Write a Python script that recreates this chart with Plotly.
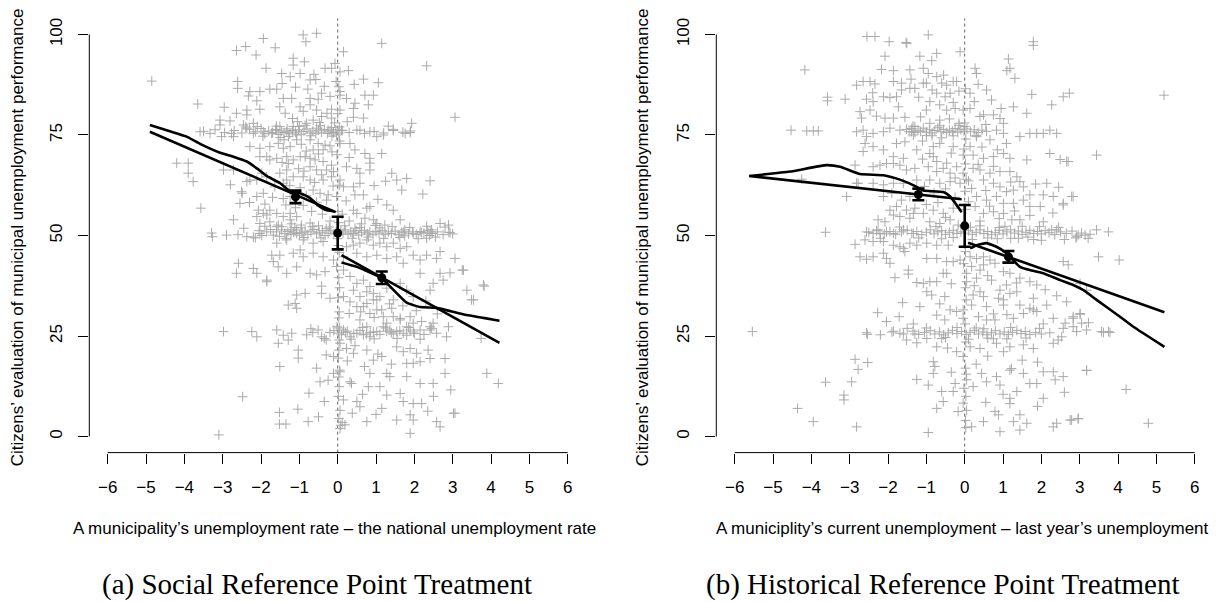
import plotly.graph_objects as go

W, H = 1221, 602

# ---------------- Panel (a): social reference point ----------------
a_upper_left = [
    (-4.85, 88.4), (-1.94, 99.0), (-2.64, 96.0), (-2.4, 97.0), (-2.13, 94.9), (-1.63, 96.7), (-1.16, 94.1),
    (-1.87, 91.6), (-1.46, 90.3), (-1.24, 89.5), (-2.61, 88.3), (-2.61, 86.6), (-2.29, 85.8), (-2.03, 85.8),
    (-1.77, 86.4), (-1.59, 86.4), (-3.65, 82.7), (-2.96, 81.9), (-2.33, 84.7), (-2.11, 83.5), (-1.42, 84.1),
    (-1.2, 84.1), (-2.37, 81.2), (-2.03, 81.4), (-1.51, 82.0), (-1.37, 80.4), (-2.64, 80.4), (-2.37, 80.0),
    (-3.07, 78.7), (-2.81, 78.5), (-3.59, 75.8), (-3.33, 75.4), (-3.07, 77.5), (-3.03, 74.6), (-2.77, 75.4),
    (-2.72, 74.6), (-2.46, 77.5), (-2.37, 76.7), (-2.2, 77.9), (-2.2, 75.4), (-1.94, 75.8), (-1.72, 75.4),
    (-1.59, 76.2), (-1.51, 77.1), (-1.33, 75.8), (-1.16, 77.1), (-1.07, 75.0), (-4.2, 68.0), (-3.9, 68.0),
    (-3.9, 65.5), (-3.77, 63.4), (-2.98, 66.3), (-2.72, 66.3), (-2.29, 72.1), (-2.03, 71.7), (-1.77, 72.1),
    (-1.55, 72.9), (-1.42, 71.7), (-1.24, 72.1), (-1.07, 73.8), (-2.03, 69.6), (-1.85, 69.6), (-1.59, 69.2),
    (-1.33, 69.6), (-1.16, 68.8), (-2.37, 63.4), (-2.11, 63.8), (-1.85, 64.6), (-1.51, 65.5), (-1.33, 63.8),
    (-1.16, 64.6), (-2.49, 60.5), (-2.11, 59.7), (-1.94, 60.5), (-3.57, 56.8), (-2.72, 53.9), (-2.11, 54.7),
    (-1.94, 55.5), (-1.77, 56.3), (-1.59, 55.5), (-1.42, 54.7), (-1.24, 55.5), (-1.07, 54.7), (-2.03, 53.0),
    (-1.77, 53.4), (-1.59, 52.2), (-3.27, 49.7), (-2.9, 50.1), (-2.37, 49.7), (-2.2, 49.6), (-2.03, 50.5),
    (-1.85, 50.9), (-1.68, 50.1), (-1.46, 51.4), (-1.24, 51.4), (-1.07, 50.5), (-1.59, 48.1), (-1.33, 48.9),
    (-2.59, 43.1), (-2.64, 40.6), (-2.2, 41.8), (-2.11, 40.6), (-1.85, 38.9), (-1.68, 43.5), (-1.55, 42.2),
    (-1.33, 40.6), (-1.07, 42.2), (-1.07, 35.2), (-2.07, 56.3), (-1.85, 55.1), (-1.46, 52.2), (-1.24, 53.9),
    (-1.42, 59.2), (-1.24, 59.7), (-1.64, 62.1), (-1.42, 63.0), (-1.33, 66.3), (-2.29, 63.8), (-1.98, 65.5),
    (-2.51, 60.9), (-1.77, 68.8), (-1.29, 67.9), (-1.16, 92.4), (-1.72, 45.1), (-1.51, 45.1), (-1.16, 45.6),
]
a_lower_left = [
    (-1.85, 38.5), (-1.29, 32.7), (-1.11, 33.1), (-1.07, 31.9), (-2.98, 26.1), (-2.24, 26.1), (-2.11, 24.8),
    (-1.59, 26.5), (-1.42, 25.2), (-1.29, 24.0), (-1.2, 25.7), (-1.55, 23.2), (-1.03, 21.5), (-1.03, 19.5),
    (-1.51, 17.4), (-2.48, 9.9), (-1.52, 6.0), (-1.52, 3.1), (-1.35, 3.1), (-1.04, 6.8), (-3.1, 0.4),
]
a_upper_right = [
    (-0.83, 98.2), (-0.9, 99.9), (-0.55, 100.3), (0.15, 95.7), (1.15, 97.8), (2.32, 92.2), (3.06, 79.4),
    (-0.87, 93.2), (-0.33, 91.6), (-0.16, 91.6), (-0.07, 92.8), (0.06, 90.7), (0.28, 91.0), (-0.98, 90.3),
    (-0.72, 88.7), (-0.57, 88.8), (-0.04, 88.3), (0.06, 85.8), (0.43, 87.6), (0.67, 88.9), (1.06, 88.0),
    (-0.78, 86.4), (-0.42, 85.4), (-0.51, 83.9), (-0.72, 84.1), (0.06, 84.9), (0.23, 84.1), (0.71, 84.9),
    (0.93, 84.9), (0.45, 82.9), (0.8, 82.5), (-0.98, 82.0), (-0.72, 82.5), (-0.55, 81.2), (-0.16, 81.4),
    (0.06, 81.2), (0.41, 81.6), (0.67, 79.2), (0.41, 79.4), (-0.16, 79.2), (-0.42, 79.6), (-0.64, 78.7),
    (-0.81, 77.9), (-0.55, 76.7), (-0.25, 76.2), (-0.16, 76.9), (-0.11, 75.6), (0.1, 76.2), (-0.03, 75.0),
    (0.58, 76.2), (0.84, 75.8), (1.02, 74.6), (1.19, 75.0), (1.32, 77.2), (1.45, 76.4), (1.76, 75.4),
    (1.89, 75.6), (1.93, 77.9), (-0.72, 73.8), (-0.51, 72.9), (-0.33, 72.5), (-0.2, 72.3), (-0.64, 71.3),
    (-0.38, 71.3), (0.06, 72.9), (0.32, 72.9), (0.45, 71.3), (0.71, 70.4), (0.84, 69.2), (1.15, 70.4),
    (-0.98, 69.6), (-0.85, 69.6), (-0.72, 69.2), (-0.59, 68.8), (-0.38, 68.4), (-0.16, 67.5), (-0.29, 66.3),
    (-0.11, 65.9), (-0.72, 67.1), (-0.55, 66.3), (0.23, 67.1), (0.5, 66.7), (0.58, 65.5), (0.84, 66.3),
    (0.84, 68.0), (1.41, 65.5), (1.54, 63.8), (1.8, 64.2), (1.67, 61.3), (2.41, 63.6), (2.22, 60.3),
    (-0.9, 64.6), (-0.72, 63.8), (-0.38, 63.8), (-0.16, 64.6), (0.06, 63.8), (0.15, 62.1), (0.41, 62.1),
    (0.58, 63.0), (0.67, 60.1), (0.45, 60.1), (-0.64, 61.3), (-0.46, 60.5), (-0.25, 60.1), (-0.03, 59.7),
    (-0.29, 58.8), (0.41, 56.3), (0.5, 55.5), (0.76, 56.8), (0.84, 57.2), (0.71, 54.3), (0.93, 53.9),
    (1.28, 57.6), (1.45, 56.3), (1.63, 53.9), (1.23, 52.6), (1.02, 53.0), (2.67, 53.0), (2.89, 52.6),
    (2.93, 50.7), (2.41, 50.9), (2.19, 50.7), (1.97, 50.5), (1.71, 50.9), (2.45, 51.4), (2.32, 49.3),
]
a_core = [
    (-1.45, 87.8), (-1.1, 86.9), (-0.62, 90.1), (-0.35, 87.1), (-0.2, 84.6), (-0.9, 80.9), (-1.18, 79.1),
    (-1.05, 78.3), (-0.48, 78.1), (-0.28, 80.4), (-0.08, 78.0), (-1.4, 73.8), (-0.95, 72.7), (-0.82, 71.0),
    (-0.5, 70.3), (-0.15, 70.8), (-1.45, 68.2), (-1.02, 66.6), (-0.88, 66.0), (-0.42, 65.1), (-0.6, 63.2),
    (-1.25, 62.4), (-0.98, 61.9), (-0.82, 59.9), (-0.55, 58.3), (-0.12, 62.3), (-1.35, 57.6), (-1.1, 56.9),
    (-0.9, 57.5), (-0.68, 56.0), (-0.4, 55.3), (-0.2, 53.6), (-0.72, 53.1), (-0.95, 52.6), (-0.5, 52.4),
    (-1.2, 52.9), (0.22, 58.6), (0.3, 53.6), (0.62, 52.9), (0.12, 55.3), (1.05, 59.0), (0.95, 62.4),
    (1.25, 63.5), (0.3, 69.4), (0.25, 78.3), (-2.55, 58.0), (-2.8, 62.6), (-1.9, 57.8), (-2.3, 58.2),
    (-1.7, 59.5),
]
a_middle_right = [
    (-0.9, 44.7), (-0.64, 45.6), (-0.38, 44.7), (-0.11, 43.9), (-0.72, 40.6), (-0.55, 40.2), (-0.33, 41.0),
    (-0.42, 37.4), (-0.85, 35.6), (-0.42, 35.6), (-0.2, 34.4), (3.82, 37.4), (3.25, 41.4), (3.06, 44.3),
    (-0.9, 48.9), (-0.64, 48.1), (-0.38, 48.5), (-0.98, 46.4), (0.15, 44.7), (0.23, 47.2), (0.41, 47.6),
    (0.58, 48.1), (0.76, 48.9), (0.93, 47.6), (1.1, 48.1), (1.28, 47.2), (1.45, 48.1), (1.63, 46.8),
    (1.8, 47.2), (0.5, 45.6), (0.76, 44.7), (1.02, 45.1), (1.28, 44.3), (1.54, 44.7), (1.71, 43.1),
    (1.97, 45.1), (2.15, 43.9), (2.32, 45.1), (2.58, 44.3), (2.67, 46.0), (3.28, 41.4), (2.93, 40.7),
    (2.75, 38.9), (2.67, 40.6), (2.49, 38.1), (2.41, 36.4), (2.15, 40.6), (3.37, 36.4), (3.54, 34.0),
    (3.8, 37.7), (3.49, 34.0), (0.15, 41.4), (0.32, 39.8), (0.5, 38.1), (0.67, 38.9), (0.84, 37.3),
    (0.93, 35.6), (1.1, 34.8), (1.28, 36.9), (1.45, 34.0), (1.63, 38.1), (1.8, 36.4), (1.97, 34.8),
    (0.15, 34.8), (0.32, 33.5), (0.5, 32.3), (0.76, 33.1), (1.02, 34.0), (1.15, 31.5), (1.41, 31.9),
    (1.63, 29.4), (1.89, 29.8), (2.19, 28.6), (2.41, 27.3), (0.41, 36.4), (0.58, 34.8), (0.76, 36.0),
    (0.93, 34.0), (0.67, 32.3), (0.84, 30.6), (1.02, 31.5), (1.19, 29.8), (1.28, 28.2), (0.58, 29.0),
    (0.76, 27.3), (1.45, 29.8), (1.63, 29.0), (1.8, 27.3), (1.97, 28.2), (2.15, 26.5), (0.3, 30.6),
    (0.6, 31.0), (0.95, 29.6), (1.35, 33.0), (1.7, 32.5), (2.05, 31.3), (2.3, 33.7), (2.6, 30.5),
]
a_lower_right = [
    (-0.81, 25.3), (-0.51, 26.5), (-0.42, 24.8), (-0.3, 24.0), (0.02, 25.7), (0.15, 26.5), (0.32, 24.8),
    (0.5, 25.7), (0.67, 25.3), (0.84, 24.8), (1.02, 26.1), (1.19, 27.3), (1.36, 26.5), (1.54, 26.1),
    (1.71, 25.7), (1.89, 26.5), (2.41, 26.5), (2.58, 25.7), (2.84, 24.8), (2.49, 28.2), (2.89, 27.3),
    (-0.2, 25.9), (-0.1, 26.4), (0.1, 25.3), (0.25, 26.2), (0.42, 25.6), (0.58, 26.4), (0.75, 25.5),
    (0.93, 26.0), (1.1, 25.4), (1.28, 26.2), (1.45, 25.5), (1.62, 26.3), (1.8, 25.2), (1.98, 26.0),
    (2.25, 25.4), (-0.65, 25.9), (3.74, 24.4), (-0.7, 26.8), (-0.35, 24.4), (0.05, 27.0), (0.35, 24.2),
    (0.65, 27.1), (0.95, 24.3), (1.25, 27.0), (1.55, 24.4), (1.85, 27.1), (2.15, 24.2), (2.45, 26.9),
    (0.2, 25.9), (0.85, 25.9), (1.4, 25.8), (2.0, 25.6),
    (0.06, 23.2), (0.23, 21.9), (0.41, 20.7), (0.76, 21.5), (0.93, 19.0), (1.15, 19.9), (1.54, 22.3),
    (1.71, 21.1), (1.89, 21.9), (2.06, 20.7), (2.36, 21.5), (1.97, 18.2), (2.15, 18.6), (2.41, 19.4),
    (2.8, 19.4), (1.8, 18.2), (-0.3, 20.3), (-0.11, 19.9), (-0.11, 15.7), (0.06, 16.1), (0.32, 13.6),
    (0.36, 13.2), (0.84, 15.7), (1.28, 15.7), (1.36, 14.9), (1.8, 14.9), (2.15, 13.2), (2.49, 13.2),
    (2.8, 15.7), (3.89, 15.7), (4.19, 13.2), (-0.46, 13.6), (0.8, 12.4), (1.1, 12.4), (1.28, 10.3),
    (1.63, 10.7), (1.71, 8.7), (1.97, 8.2), (2.19, 8.2), (0.15, 9.1), (0.5, 8.7), (1.15, 7.0), (0.58, 7.4),
    (1.54, 4.1), (1.89, 5.4), (1.97, 4.1), (2.58, 3.7), (2.67, 2.4), (3.06, 5.8), (0.76, 3.7), (0.19, 2.9),
    (0.06, 2.0), (-0.77, 3.7), (-0.5, 4.9), (1.89, 0.8), (3.02, 5.8), (0.45, 22.6), (1.05, 20.5),
    (1.4, 18.0), (0.7, 17.4), (0.25, 18.8), (-0.55, 17.0), (-0.25, 14.0), (0.65, 10.5), (1.0, 5.5),
    (2.35, 6.3), (2.5, 10.0), (2.95, 11.6), (-0.35, 8.7), (-0.75, 10.8), (0.38, 5.8),
]
# answers heaped at 50 and 75, and municipalities sitting right at the reference point
a_heap_50 = [
    (-3.29, 50.6), (-2.6, 50.2), (-2.05, 51.2), (-1.98, 50.0), (-1.75, 51.5), (-1.6, 50.9), (-1.52, 49.8),
    (-1.38, 50.5), (-1.3, 51.0), (-1.22, 50.2), (-1.15, 50.8), (-1.08, 51.4), (-1.0, 50.1), (-0.93, 50.7),
    (-0.85, 51.1), (-0.78, 50.3), (-0.7, 50.9), (-0.62, 51.5), (-0.55, 50.4), (-0.48, 50.8), (-0.4, 51.2),
    (-0.33, 50.0), (-0.25, 50.6), (-0.18, 51.3), (-0.1, 50.4), (-0.04, 50.9), (0.03, 50.2), (0.08, 51.1),
    (0.14, 50.6), (0.2, 51.4), (0.27, 50.3), (0.34, 50.9), (0.41, 50.5), (0.48, 51.2), (0.55, 50.1),
    (0.62, 50.8), (0.7, 51.3), (0.77, 50.4), (0.84, 50.9), (0.92, 50.2), (1.0, 51.0), (1.08, 50.6),
    (1.16, 51.2), (1.24, 50.3), (1.32, 50.9), (1.4, 50.5), (1.5, 51.1), (1.58, 50.2), (1.67, 50.8),
    (1.75, 51.4), (1.85, 50.4), (1.95, 50.9), (2.05, 50.3), (2.15, 51.0), (2.25, 50.6), (2.35, 51.3),
    (2.47, 50.5), (2.6, 50.9), (2.75, 50.2), (2.9, 50.8), (3.0, 50.4), (-2.45, 51.8), (-2.15, 49.4),
    (-1.9, 52.3), (-1.55, 52.6), (-1.35, 49.3), (-1.12, 52.0), (-0.88, 49.5), (-0.66, 52.2), (-0.44, 49.4),
    (-0.22, 52.1), (0.0, 49.2), (0.18, 52.4), (0.38, 49.3), (0.58, 52.0), (0.8, 49.6), (0.98, 52.5),
    (1.2, 49.3), (1.42, 52.2), (1.62, 49.5), (1.88, 52.0), (2.1, 49.2), (2.32, 52.3), (2.55, 49.6),
    (2.8, 52.1), (-0.95, 51.9), (-0.3, 51.7), (0.45, 51.8), (1.1, 51.9), (1.75, 49.9), (2.4, 50.0),
]
a_heap_75 = [
    (-3.5, 75.9), (-3.2, 76.3), (-2.95, 75.6), (-2.7, 76.1), (-2.5, 75.5), (-2.3, 76.4), (-2.15, 75.8),
    (-2.0, 76.6), (-1.9, 75.3), (-1.8, 76.0), (-1.7, 75.6), (-1.62, 76.4), (-1.55, 75.2), (-1.47, 76.0),
    (-1.4, 75.6), (-1.32, 76.5), (-1.25, 75.3), (-1.18, 76.1), (-1.1, 75.7), (-1.02, 76.3), (-0.95, 75.2),
    (-0.88, 75.9), (-0.8, 76.5), (-0.72, 75.5), (-0.65, 76.0), (-0.57, 75.3), (-0.5, 76.2), (-0.42, 75.7),
    (-0.35, 76.4), (-0.27, 75.4), (-0.2, 76.0), (-0.12, 75.6), (-0.05, 76.3), (0.03, 75.5), (0.12, 76.1),
    (0.3, 75.6), (0.5, 76.2), (0.7, 75.4), (0.95, 75.9), (1.2, 75.5), (1.45, 76.1), (1.7, 75.7), (1.9, 76.0),
    (-2.4, 77.0), (-1.95, 74.7), (-1.6, 77.2), (-1.28, 74.6), (-1.0, 77.1), (-0.7, 74.8), (-0.45, 77.3),
    (-0.15, 74.7), (0.05, 77.0), (-0.85, 77.4), (-1.5, 74.4), (-2.1, 77.1),
]
a_at_zero = [
    (0.03, 87.0), (0.0, 80.3), (0.05, 73.5), (-0.02, 70.1), (0.04, 62.5), (0.01, 56.0), (0.03, 53.2),
    (0.02, 47.5), (0.04, 45.8), (-0.03, 42.3), (0.03, 39.5), (0.05, 37.0), (0.02, 34.5), (0.04, 31.0),
    (0.03, 29.5), (-0.02, 27.3), (0.04, 24.0), (0.03, 21.5), (0.02, 19.5), (0.05, 16.5), (0.03, 14.8),
    (0.04, 12.4), (0.02, 10.0), (0.06, 6.5), (0.03, 4.5), (0.08, 2.8), (0.12, 3.5),
]

# fitted lines (linear and local regression) on each side of the cut-off
a_lin_left_x, a_lin_left_y = [-4.9, -0.05], [75.8, 55.8]
a_lo_left_x = [-4.9, -4.4, -3.94, -3.59, -3.07, -2.72, -2.37, -2.11, -1.85, -1.5, -1.24, -0.98, -0.72, -0.5, -0.33, -0.1]
a_lo_left_y = [77.5, 76.0, 74.6, 72.8, 70.6, 69.6, 68.4, 66.7, 64.8, 63.0, 61.0, 60.5, 59.3, 57.4, 56.4, 56.0]
a_lin_right_x, a_lin_right_y = [0.1, 4.22], [45.1, 23.3]
a_lo_right_x = [0.1, 0.5, 1.15, 1.37, 1.8, 2.15, 2.58, 3.19, 3.37, 4.22]
a_lo_right_y = [43.3, 42.2, 39.4, 37.3, 33.3, 32.2, 32.0, 30.6, 30.2, 28.8]
a_est_x = [-1.1, 0.0, 1.15]
a_est_y = [59.6, 50.6, 39.5]
a_est_ci = [1.55, 4.05, 1.55]

# ---------------- Panel (b): historical reference point ----------------
b_upper_left = [
    (-4.17, 91.2), (-4.53, 76.2), (-4.12, 76.0), (-3.95, 76.0), (-3.82, 76.0), (-3.58, 84.4), (-3.58, 83.5),
    (-3.12, 83.9), (-2.55, 99.5), (-2.34, 99.5), (-1.97, 98.2), (-1.53, 98.0), (-2.08, 94.6), (-2.17, 91.3),
    (-1.86, 91.0), (-1.43, 91.2), (-2.82, 87.4), (-2.65, 88.3), (-2.47, 88.3), (-2.34, 87.7), (-1.86, 88.3),
    (-1.65, 87.9), (-2.4, 85.5), (-2.12, 84.5), (-1.95, 84.3), (-1.65, 86.2), (-1.43, 86.6), (-1.3, 86.6),
    (-2.56, 83.9), (-2.39, 83.3), (-2.47, 81.2), (-1.78, 84.5), (-1.73, 82.0), (-2.73, 80.8), (-2.69, 79.2),
    (-2.3, 79.7), (-2.08, 79.2), (-1.86, 79.2), (-1.56, 79.4), (-2.82, 75.8), (-2.65, 76.2), (-2.56, 74.6),
    (-2.39, 75.4), (-2.12, 75.8), (-1.95, 76.7), (-1.69, 76.2), (-1.39, 75.8), (-1.3, 77.1), (-1.34, 75.0),
    (-2.6, 72.9), (-2.65, 70.9), (-2.39, 72.1), (-2.12, 71.3), (-1.86, 69.6), (-1.6, 69.2), (-1.78, 72.9),
    (-1.56, 73.3), (-2.39, 67.1), (-2.21, 67.5), (-2.04, 67.9), (-1.86, 67.9), (-1.69, 67.5), (-1.52, 66.3),
    (-1.3, 66.7), (-2.86, 67.5), (-2.82, 63.0), (-4.25, 64.0), (-3.08, 59.7), (-2.78, 63.0), (-2.39, 63.0),
    (-2.12, 62.6), (-1.86, 63.0), (-1.6, 63.0), (-1.25, 63.8), (-2.12, 59.7), (-1.9, 60.5), (-1.65, 58.8),
    (-1.43, 59.7), (-1.95, 56.3), (-1.78, 57.2), (-1.52, 56.3), (-1.3, 56.8), (-1.86, 55.1), (-1.69, 54.7),
    (-1.43, 54.3), (-1.34, 55.5), (-2.26, 53.9), (-2.08, 53.4), (-2.26, 51.4), (-2.04, 50.9), (-1.86, 50.5),
    (-2.56, 50.9), (-2.39, 50.5), (-2.21, 50.5), (-1.6, 51.4), (-1.34, 50.5), (-3.63, 50.8), (-2.86, 47.8),
    (-2.6, 48.9), (-2.39, 48.5), (-2.12, 48.5), (-1.86, 47.6), (-1.6, 46.8), (-2.73, 44.7), (-2.56, 44.1),
    (-2.39, 44.7), (-2.12, 45.6), (-2.04, 44.3), (-1.95, 43.1), (-1.82, 39.5), (-1.47, 41.4), (-1.47, 40.4),
    (-1.25, 38.3), (-1.69, 47.2), (-1.43, 48.1), (-1.25, 47.6), (-1.56, 46.0), (-1.51, 97.8), (-0.95, 99.9),
]
b_lower_left = [
    (-5.54, 26.1), (-4.36, 7.0), (-3.95, 3.7), (-3.63, 13.5), (-3.15, 10.3), (-3.15, 9.1), (-2.95, 13.6),
    (-2.82, 2.4), (-2.86, 19.2), (-2.78, 16.7), (-2.53, 18.4), (-2.54, 25.4), (-2.27, 30.8), (-2.04, 28.6),
    (-1.86, 26.2), (-1.69, 25.7), (-1.71, 29.8), (-1.62, 33.3), (-1.52, 24.0), (-1.34, 28.0), (-1.3, 25.5),
    (-1.25, 23.3), (-1.25, 14.2),
]
b_upper_right = [
    (-0.12, 95.7), (-1.17, 94.6), (-0.73, 95.3), (-0.86, 93.5), (1.79, 98.2), (1.79, 97.3), (1.14, 93.9),
    (1.18, 91.6), (1.1, 91.0), (0.27, 91.6), (0.31, 90.3), (1.31, 89.1), (-1.08, 91.6), (-0.95, 90.3),
    (-0.73, 89.5), (-1.08, 87.9), (-1.0, 87.9), (-0.6, 87.9), (-0.47, 87.4), (-0.3, 88.3), (-0.21, 88.3),
    (-0.38, 85.4), (-0.51, 84.5), (-0.73, 85.4), (-0.91, 83.3), (0.14, 85.4), (0.57, 86.2), (0.14, 81.6),
    (0.4, 79.6), (0.75, 80.0), (0.92, 79.1), (1.01, 77.9), (1.75, 85.1), (2.27, 82.5), (2.57, 84.5),
    (2.73, 85.4), (1.27, 82.0), (1.62, 80.4), (0.49, 80.0), (-0.65, 82.5), (-0.47, 81.2), (-0.25, 81.6),
    (-0.04, 81.2), (-1.0, 81.2), (-0.91, 77.9), (-0.65, 78.7), (0.83, 76.2), (1.01, 75.4), (1.44, 74.6),
    (1.7, 75.4), (1.88, 75.4), (2.05, 75.4), (2.22, 76.2), (2.4, 75.4), (1.09, 72.9), (0.66, 73.8),
    (0.31, 74.6), (0.14, 72.1), (-0.3, 72.1), (-0.65, 72.9), (-0.82, 72.1), (-0.91, 70.4), (-1.25, 71.3),
    (-0.82, 69.6), (-0.73, 68.4), (-0.47, 68.0), (-0.21, 67.1), (-0.04, 70.0), (0.22, 70.0), (0.49, 69.2),
    (0.75, 69.6), (1.01, 70.4), (1.18, 69.2), (1.62, 68.8), (2.22, 70.4), (2.66, 68.4), (-0.95, 67.1),
    (-0.73, 65.9), (-0.56, 66.7), (-0.38, 65.5), (-0.04, 65.5), (0.22, 66.7), (0.4, 66.3), (0.66, 65.5),
    (0.92, 65.9), (1.18, 65.9), (1.44, 63.4), (1.36, 64.6), (2.14, 63.0), (-0.91, 63.8), (-0.65, 63.0),
    (-0.38, 63.4), (-0.12, 63.0), (0.18, 61.7), (0.49, 63.8), (0.75, 63.0), (0.92, 62.1), (1.09, 60.9),
    (1.27, 61.3), (1.53, 62.1), (1.7, 60.1), (2.05, 60.1), (2.31, 59.7), (2.57, 58.0), (2.83, 59.7),
    (0.31, 59.7), (0.57, 58.8), (0.83, 59.7), (1.01, 58.0), (1.27, 58.0), (1.53, 58.8), (1.7, 57.2),
    (1.97, 57.2), (0.27, 57.2), (0.49, 55.5), (0.75, 55.9), (1.01, 55.5), (1.23, 53.9), (1.44, 53.9),
    (2.05, 53.4), (-1.08, 55.5), (-0.82, 56.3), (-0.56, 55.5), (-0.3, 56.8), (-0.91, 53.4), (-0.65, 53.0),
    (-0.38, 53.9), (-0.17, 52.6), (2.92, 49.7), (3.14, 50.1), (5.2, 84.9), (3.44, 70.0), (2.7, 68.4),
    (2.49, 68.9), (2.79, 59.7), (2.57, 57.6), (3.44, 51.4), (3.75, 50.9), (3.49, 44.7), (4.03, 43.9),
    (2.96, 50.1), (3.22, 49.3), (2.27, 51.4), (2.4, 51.4), (2.7, 42.7), (2.57, 43.5), (3.01, 38.1),
    (3.18, 36.4),
]
b_core = [
    (-1.4, 88.9), (-0.85, 86.2), (-0.55, 89.9), (-0.15, 85.9), (0.35, 87.6), (0.7, 83.7), (-1.2, 84.4),
    (-0.3, 83.1), (0.25, 83.3), (0.95, 81.6), (-1.15, 79.5), (-0.4, 79.0), (-0.15, 77.9), (0.55, 77.6),
    (-0.6, 74.3), (-1.1, 73.5), (0.45, 72.0), (0.85, 71.3), (-0.35, 70.5), (-1.1, 69.0), (0.35, 67.7),
    (0.75, 67.2), (-0.25, 64.3), (-1.05, 62.2), (-0.8, 60.6), (-0.5, 61.6), (-0.25, 59.5), (0.55, 61.2),
    (1.2, 63.3), (0.1, 63.6), (-0.7, 58.2), (-1.0, 57.7), (0.1, 58.4), (0.65, 57.3), (1.3, 56.1),
    (0.9, 54.2), (0.4, 53.6), (-0.5, 54.5), (1.7, 55.0), (2.3, 55.6), (1.85, 62.8), (2.45, 62.0),
]
b_lower_right = [
    (-0.99, 48.1), (-0.73, 47.6), (-0.43, 47.6), (-0.99, 44.3), (-0.73, 44.3), (-0.47, 43.5), (-0.3, 43.5),
    (-0.12, 43.9), (-1.08, 38.1), (-0.91, 38.5), (-0.73, 38.5), (-0.56, 40.6), (-0.47, 40.6), (-0.99, 36.0),
    (-0.86, 35.2), (-0.52, 34.8), (0.05, 38.5), (0.05, 40.6), (0.18, 42.3), (0.31, 39.4), (0.4, 41.4),
    (0.49, 42.7), (0.66, 43.9), (0.79, 43.1), (0.14, 44.7), (0.31, 44.3), (0.49, 44.7), (1.01, 41.0),
    (1.18, 40.6), (1.44, 39.4), (1.7, 38.5), (1.88, 37.7), (0.7, 38.9), (1.09, 37.7), (0.92, 36.4),
    (1.36, 36.0), (0.4, 36.0), (0.22, 35.2), (0.49, 34.8), (0.88, 34.4), (1.01, 34.0), (1.18, 35.6),
    (1.79, 34.4), (-1.17, 32.3), (-0.38, 31.5), (-0.21, 31.1), (-0.04, 31.5), (0.18, 32.7), (0.57, 32.3),
    (1.01, 32.7), (1.44, 32.7), (1.7, 31.9), (1.88, 31.1), (2.14, 32.7), (2.66, 33.5), (-0.73, 30.2),
    (-0.52, 29.0), (-0.04, 29.4), (0.36, 29.8), (0.57, 29.0), (0.79, 29.0), (1.27, 29.4), (1.53, 30.6),
    (1.79, 31.5), (2.31, 29.4), (2.83, 29.4), (3.01, 30.6), (2.62, 28.2), (2.57, 26.9), (2.92, 26.1),
    (3.18, 26.5), (3.57, 26.1), (3.75, 26.1), (2.53, 24.8), (2.44, 24.0), (-0.99, 24.4), (-0.73, 22.3),
    (-0.21, 21.1), (-0.04, 19.9), (0.14, 22.3), (0.4, 21.9), (0.83, 23.2), (1.18, 22.3), (1.53, 22.8),
    (1.79, 21.9), (2.31, 23.2), (1.01, 21.1), (-0.82, 18.6), (-0.78, 17.4), (-0.82, 15.7), (-0.95, 12.8),
    (-0.6, 11.2), (-0.3, 11.2), (-0.25, 13.2), (0.05, 14.1), (0.22, 12.4), (0.44, 15.7), (0.57, 13.6),
    (0.83, 14.9), (0.92, 12.8), (1.18, 16.5), (1.22, 16.9), (1.53, 15.7), (1.7, 13.2), (1.88, 13.2),
    (2.05, 16.1), (2.31, 16.1), (2.36, 14.1), (2.57, 14.9), (3.18, 16.5), (1.36, 11.2), (-0.73, 7.0),
    (-0.56, 8.7), (-0.04, 8.3), (-0.17, 6.2), (0.18, 2.4), (0.49, 3.7), (0.79, 6.2), (0.88, 5.4),
    (1.18, 9.5), (1.18, 8.2), (1.44, 5.4), (1.27, 3.7), (1.44, 1.6), (1.62, 3.3), (2.05, 9.5), (2.31, 2.4),
    (2.4, 3.3), (2.75, 4.1), (2.96, 4.5), (-0.95, 1.0), (0.92, 1.2), (4.21, 11.7), (4.79, 3.3),
    (3.18, 16.4), (3.62, 25.9), (3.79, 25.9), (3.01, 30.4), (3.23, 28.3), (3.05, 28.2), (2.83, 29.8),
    (2.83, 27.3), (2.96, 4.4), (2.79, 4.1), (0.6, 40.0), (0.25, 37.5), (1.35, 38.2), (2.1, 36.5),
    (2.4, 35.0), (-0.35, 38.0), (-0.65, 33.0), (0.75, 30.5), (1.1, 30.3), (2.05, 28.0), (-0.45, 22.0),
    (0.6, 20.0), (1.5, 19.0), (1.9, 18.5), (0.3, 18.0), (-0.35, 16.0), (1.0, 10.5), (0.55, 8.5),
    (1.9, 7.5), (2.6, 11.0),
]
b_heap_50 = [
    (-2.5, 50.8), (-2.3, 51.2), (-2.1, 50.4), (-1.95, 51.0), (-1.8, 50.3), (-1.65, 50.9), (-1.5, 51.3),
    (-1.38, 50.5), (-1.25, 51.0), (-1.12, 50.2), (-1.0, 50.8), (-0.9, 51.4), (-0.8, 50.4), (-0.7, 50.9),
    (-0.6, 51.2), (-0.5, 50.3), (-0.4, 50.8), (-0.3, 51.3), (-0.2, 50.5), (-0.1, 50.9), (0.02, 50.6),
    (0.1, 51.2), (0.2, 50.3), (0.3, 50.8), (0.4, 51.4), (0.5, 50.5), (0.6, 51.0), (0.7, 50.2), (0.8, 50.7),
    (0.9, 51.3), (1.0, 50.4), (1.1, 50.9), (1.2, 51.4), (1.3, 50.6), (1.4, 51.1), (1.5, 50.3), (1.6, 50.8),
    (1.7, 51.3), (1.8, 50.5), (1.9, 51.0), (2.0, 50.4), (2.1, 51.2), (2.2, 50.7), (2.35, 50.2), (2.5, 50.9),
    (2.65, 50.5), (2.8, 51.1), (3.05, 50.6), (3.27, 50.3), (0.4, 52.4), (0.9, 52.0), (1.5, 52.3),
    (2.0, 48.8), (2.6, 49.0), (-0.6, 49.2), (0.2, 49.0), (1.2, 49.3), (1.8, 49.0), (-2.2, 49.3),
    (-1.7, 52.1), (-1.2, 49.4), (-0.75, 52.2), (-0.3, 49.5), (0.15, 52.1), (0.6, 49.4), (1.05, 52.3),
    (1.4, 49.3), (1.95, 52.2), (2.45, 52.0), (2.9, 49.4), (-0.05, 52.3), (0.85, 49.2), (1.65, 49.6),
]
b_heap_75 = [
    (-1.52, 76.4), (-1.45, 75.8), (-1.38, 76.6), (-1.3, 75.6), (-1.22, 76.2), (-1.15, 75.9), (-1.08, 76.7),
    (-1.0, 75.7), (-0.92, 76.3), (-0.85, 75.5), (-0.78, 76.1), (-0.7, 76.8), (-0.62, 75.8), (-0.55, 76.4),
    (-0.47, 75.6), (-0.4, 76.2), (-0.32, 75.9), (-0.25, 76.6), (-0.18, 75.7), (-0.1, 76.3), (-0.02, 75.9),
    (0.06, 76.5), (0.15, 75.8), (0.25, 76.3), (0.35, 75.6), (0.45, 76.2), (0.57, 75.9), (-1.35, 77.2),
    (-1.0, 74.9), (-0.65, 77.3), (-0.3, 74.8), (0.0, 77.1), (0.3, 74.9), (-0.85, 74.8), (-0.15, 77.4),
]
b_heap_25 = [
    (-2.56, 25.8), (-2.2, 25.3), (-1.9, 26.0), (-1.6, 25.5), (-1.35, 26.2), (-1.2, 25.4), (-1.05, 25.9),
    (-0.9, 26.3), (-0.78, 25.5), (-0.66, 26.0), (-0.55, 25.3), (-0.43, 25.8), (-0.32, 26.4), (-0.2, 25.6),
    (-0.08, 26.1), (0.04, 25.4), (0.14, 25.9), (0.25, 26.4), (0.36, 25.5), (0.47, 26.0), (0.58, 25.3),
    (0.7, 25.8), (0.8, 26.3), (0.92, 25.5), (1.03, 26.0), (1.14, 25.4), (1.25, 25.9), (1.36, 26.4),
    (1.47, 25.6), (1.58, 26.1), (1.7, 25.4), (1.85, 25.9), (2.0, 25.5), (2.22, 25.8), (0.1, 24.2),
    (0.6, 24.5), (1.1, 24.3), (-0.5, 24.6), (-1.0, 27.0), (-0.6, 24.4), (-0.2, 27.1), (0.3, 27.0),
    (0.75, 24.3), (1.2, 27.1), (1.6, 24.5), (1.95, 26.9), (-1.5, 26.9), (0.5, 26.8),
]
b_at_zero = [
    (0.02, 86.5), (0.0, 78.0), (0.03, 74.0), (-0.02, 71.5), (0.02, 67.8), (0.04, 64.0), (0.01, 61.0),
    (0.03, 56.5), (0.02, 46.0), (-0.03, 43.0), (0.02, 37.0), (0.04, 34.0), (0.01, 28.0), (0.03, 23.5),
    (0.02, 17.0), (0.04, 15.5), (-0.02, 12.0), (0.03, 10.0), (0.05, 6.5), (0.02, 4.0), (0.03, 2.2),
]

b_lin_left_x, b_lin_left_y = [-5.62, -0.08], [64.8, 59.0]
b_lo_left_x = [-5.62, -4.56, -3.6, -3.25, -2.73, -2.12, -1.69, -1.25, -1.08, -0.56, -0.38, -0.08]
b_lo_left_y = [64.8, 65.9, 67.5, 67.1, 65.3, 65.0, 63.9, 62.1, 61.2, 60.8, 59.7, 55.8]
b_lin_right_x, b_lin_right_y = [0.09, 5.21], [48.2, 30.9]
b_lo_right_x = [0.14, 0.31, 0.57, 0.83, 1.09, 1.44, 1.7, 2.05, 2.49, 2.83, 3.1, 3.44, 4.05, 4.4, 5.21]
b_lo_right_y = [46.8, 47.6, 48.1, 47.2, 45.6, 42.2, 41.4, 40.6, 38.9, 37.7, 36.4, 34.0, 29.8, 27.3, 22.3]
b_est_x = [-1.21, 0.0, 1.14]
b_est_y = [60.2, 52.4, 44.7]
b_est_ci = [1.45, 5.2, 1.45]

x_ticks = [-6, -5, -4, -3, -2, -1, 0, 1, 2, 3, 4, 5, 6]
x_tick_text = [("\u2212%d" % -v) if v < 0 else str(v) for v in x_ticks]
y_ticks = [0, 25, 50, 75, 100]

x_titles = ["A municipality\u2019s unemployment rate \u2013 the national unemployment rate",
            "A municiplity\u2019s current unemployment \u2013 last year\u2019s unemployment"]
y_title = "Citizens\u2019 evaluation of municipal unemployment performance"
captions = ["(a) Social Reference Point Treatment", "(b) Historical Reference Point Treatment"]

SANS = "Liberation Sans, Arial, sans-serif"
SERIF = "Liberation Serif, Times New Roman, serif"
GREY = "#aaaaaa"


def unzip(*groups):
    pts = [p for g in groups for p in g]
    return [p[0] for p in pts], [p[1] for p in pts]


fig = go.Figure()

panels = [
    dict(pts=unzip(a_upper_left, a_lower_left, a_upper_right, a_core, a_middle_right, a_lower_right,
                   a_heap_50, a_heap_75, a_at_zero),
         lines=[(a_lin_left_x, a_lin_left_y), (a_lo_left_x, a_lo_left_y),
                (a_lin_right_x, a_lin_right_y), (a_lo_right_x, a_lo_right_y)],
         est=(a_est_x, a_est_y, a_est_ci)),
    dict(pts=unzip(b_upper_left, b_lower_left, b_upper_right, b_core, b_lower_right,
                   b_heap_50, b_heap_75, b_heap_25, b_at_zero),
         lines=[(b_lin_left_x, b_lin_left_y), (b_lo_left_x, b_lo_left_y),
                (b_lin_right_x, b_lin_right_y), (b_lo_right_x, b_lo_right_y)],
         est=(b_est_x, b_est_y, b_est_ci)),
]

for i, p in enumerate(panels):
    xa, ya = ("x", "y") if i == 0 else ("x2", "y2")
    px, py = p["pts"]
    fig.add_trace(go.Scatter(
        x=px, y=py, mode="markers", xaxis=xa, yaxis=ya, showlegend=False, hoverinfo="skip",
        marker=dict(symbol="cross-thin", size=7, color=GREY, line=dict(color=GREY, width=1))))
    for lx, ly in p["lines"]:
        fig.add_trace(go.Scatter(
            x=lx, y=ly, mode="lines", xaxis=xa, yaxis=ya, showlegend=False,
            line=dict(color="black", width=2.6, shape="spline", smoothing=0.4)))
    ex, ey, ec = p["est"]
    fig.add_trace(go.Scatter(
        x=ex, y=ey, mode="markers", xaxis=xa, yaxis=ya, showlegend=False,
        marker=dict(symbol="circle", size=9, color="black"),
        error_y=dict(type="data", array=ec, visible=True, color="black", thickness=2.6, width=6)))

# plot regions (paper fractions) and axis styling
x_domains = [[89.3 / W, 586.1 / W], [716.3 / W, 1213.1 / W]]
y_domain = [1 - 452.6 / H, 1 - 18.4 / H]

layout = dict(width=W, height=H, margin=dict(l=0, r=0, t=0, b=0), autosize=False,
              paper_bgcolor="white", plot_bgcolor="white", showlegend=False)

shapes = []
annotations = []
for i in range(2):
    sx = "" if i == 0 else "2"
    layout["xaxis" + sx] = dict(
        domain=x_domains[i], range=[-6.48, 6.48], anchor="y" + sx,
        tickmode="array", tickvals=x_ticks, ticktext=x_tick_text,
        ticks="outside", ticklen=10, tickwidth=1, tickcolor="black",
        showgrid=False, zeroline=False, showline=False, ticklabelstandoff=9,
        tickfont=dict(family=SANS, size=17, color="black"))
    layout["yaxis" + sx] = dict(
        domain=y_domain, range=[-4, 104], anchor="x" + sx,
        tickmode="array", tickvals=y_ticks, tickangle=-90,
        ticks="outside", ticklen=10, tickwidth=1, tickcolor="black",
        showgrid=False, zeroline=False, showline=False, ticklabelstandoff=10,
        tickfont=dict(family=SANS, size=17, color="black"))
    # axis lines only span the tick range
    shapes.append(dict(type="line", xref="x" + sx, yref="y" + sx + " domain",
                       x0=-6, x1=6, y0=0, y1=0, line=dict(color="black", width=1)))
    shapes.append(dict(type="line", xref="x" + sx + " domain", yref="y" + sx,
                       x0=0, x1=0, y0=0, y1=100, line=dict(color="black", width=1)))
    # reference point
    shapes.append(dict(type="line", xref="x" + sx, yref="y" + sx + " domain",
                       x0=0, x1=0, y0=0, y1=1, line=dict(color="#666666", width=1, dash="dot"),
                       layer="below"))

title_x = [334.5, 962.5]
ytitle_x = [18.3, 643.3]
caption_x = [316.7, 943.3]
for i in range(2):
    annotations.append(dict(text=x_titles[i], xref="paper", yref="paper",
                            x=title_x[i] / W, y=1 - 528 / H, xanchor="center", yanchor="middle",
                            showarrow=False, font=dict(family=SANS, size=17, color="black")))
    annotations.append(dict(text=y_title, xref="paper", yref="paper", textangle=-90,
                            x=ytitle_x[i] / W, y=1 - 237 / H, xanchor="center", yanchor="middle",
                            showarrow=False, font=dict(family=SANS, size=17, color="black")))
    annotations.append(dict(text=captions[i], xref="paper", yref="paper",
                            x=caption_x[i] / W, y=1 - 584 / H, xanchor="center", yanchor="middle",
                            showarrow=False, font=dict(family=SERIF, size=29, color="black")))

layout["shapes"] = shapes
layout["annotations"] = annotations
fig.update_layout(**layout)

fig.write_html("out.html")
